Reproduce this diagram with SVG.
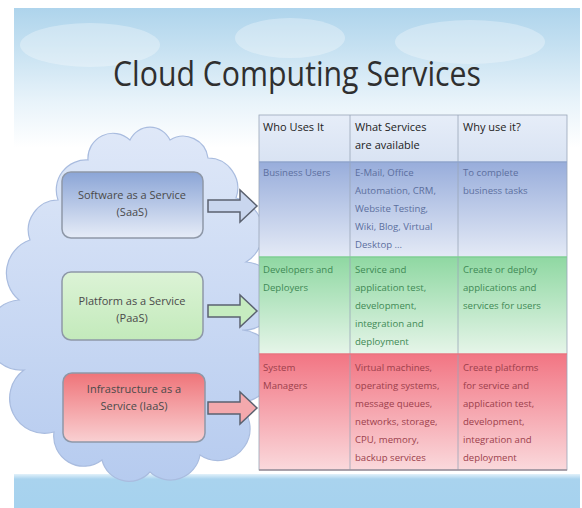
<svg xmlns="http://www.w3.org/2000/svg" width="582" height="508" viewBox="0 0 582 508">
<defs>
<linearGradient id="sky" x1="0" y1="0" x2="0" y2="1">
<stop offset="0" stop-color="#aed4ec"/>
<stop offset="0.08" stop-color="#c4e0f1"/>
<stop offset="0.2" stop-color="#e8f3fa"/>
<stop offset="0.3" stop-color="#ffffff"/>
<stop offset="1" stop-color="#ffffff"/>
</linearGradient>
<linearGradient id="cloudG" x1="0" y1="0" x2="0" y2="1">
<stop offset="0" stop-color="#dfe8f8"/>
<stop offset="1" stop-color="#b6cbef"/>
</linearGradient>
<linearGradient id="hdrG" x1="0" y1="0" x2="0" y2="1">
<stop offset="0" stop-color="#e6edf8"/>
<stop offset="1" stop-color="#d9e3f3"/>
</linearGradient>
<linearGradient id="blueRow" x1="0" y1="0" x2="0" y2="1">
<stop offset="0" stop-color="#98addb"/>
<stop offset="1" stop-color="#e4eaf6"/>
</linearGradient>
<linearGradient id="greenRow" x1="0" y1="0" x2="0" y2="1">
<stop offset="0" stop-color="#8fd8a2"/>
<stop offset="1" stop-color="#e6f5e9"/>
</linearGradient>
<linearGradient id="redRow" x1="0" y1="0" x2="0" y2="1">
<stop offset="0" stop-color="#f27583"/>
<stop offset="1" stop-color="#fad9dc"/>
</linearGradient>
<linearGradient id="saasG" x1="0" y1="0" x2="0" y2="1">
<stop offset="0" stop-color="#8ba5d6"/>
<stop offset="1" stop-color="#e6ecf7"/>
</linearGradient>
<linearGradient id="paasG" x1="0" y1="0" x2="0" y2="1">
<stop offset="0" stop-color="#dcf3d6"/>
<stop offset="1" stop-color="#c3eabb"/>
</linearGradient>
<linearGradient id="iaasG" x1="0" y1="0" x2="0" y2="1">
<stop offset="0" stop-color="#ef7479"/>
<stop offset="1" stop-color="#f9d0d2"/>
</linearGradient>
<linearGradient id="band" x1="0" y1="0" x2="0" y2="1">
<stop offset="0" stop-color="#e2f1fa"/>
<stop offset="0.15" stop-color="#a9d3ee"/>
<stop offset="1" stop-color="#a6d2ee"/>
</linearGradient>
<style>
.title{font-family:"Open Sans","Liberation Sans",sans-serif;font-size:35px;fill:#2f2f2f}
.hdr{font-family:"Open Sans","Liberation Sans",sans-serif;font-size:11px;fill:#222}
.cell{font-family:"Open Sans","Liberation Sans",sans-serif;font-size:9.6px}
.blue{fill:#5c6f9e}
.green{fill:#3f8a55}
.red{fill:#9c3f4c}
.box{stroke:#8e98a8;stroke-width:1.5}
.btxt{font-family:"Open Sans","Liberation Sans",sans-serif;font-size:11px;fill:#4a4a4a;text-anchor:middle}
.arrow{stroke:#5b6270;stroke-width:1.5}
.grid{stroke:#9aa6b8;stroke-width:0.8;fill:none}
</style>
</defs>
<rect width="582" height="508" fill="#ffffff"/>
<rect x="14" y="8" width="566" height="466" fill="url(#sky)"/>
<g fill="#ffffff" opacity="0.3">
<ellipse cx="90" cy="45" rx="70" ry="22"/>
<ellipse cx="290" cy="38" rx="55" ry="20"/>
<ellipse cx="470" cy="42" rx="75" ry="22"/>
</g>
<rect x="14" y="474" width="566" height="34" fill="url(#band)"/>
<text class="title" x="297" y="86" text-anchor="middle" textLength="368" lengthAdjust="spacingAndGlyphs">Cloud Computing Services</text>

<g id="cloud">
<path d="M 58 200 A 30 30 0 0 1 88 160 A 25 25 0 0 1 130 140 A 22 22 0 0 1 170 140 A 25 25 0 0 1 208 158 A 30 30 0 0 1 236 198 A 35 35 0 0 1 246 262 A 32 32 0 0 1 242 330 A 35 35 0 0 1 236 402 A 30 30 0 0 1 200 455 A 30 30 0 0 1 150 472 A 28 28 0 0 1 102 460 A 30 30 0 0 1 54 432 A 35 35 0 0 1 24 370 A 35 35 0 0 1 19 300 A 35 35 0 0 1 30 240 A 30 30 0 0 1 58 200 Z" fill="url(#cloudG)" stroke="#a9bcdf" stroke-width="1.2"/>
</g>

<g id="table">
<rect x="259" y="115" width="308" height="47" fill="url(#hdrG)"/>
<rect x="259" y="162" width="308" height="95" fill="url(#blueRow)"/>
<rect x="259" y="257" width="308" height="97" fill="url(#greenRow)"/>
<rect x="259" y="354" width="308" height="116" fill="url(#redRow)"/>
<rect x="259" y="115" width="308" height="355" class="grid"/>
<line x1="350" y1="115" x2="350" y2="470" class="grid"/>
<line x1="458" y1="115" x2="458" y2="470" class="grid"/>
<line x1="259" y1="162" x2="567" y2="162" stroke="#8fa4cc" stroke-width="1.5"/>
<line x1="259" y1="257" x2="567" y2="257" stroke="#7fcf93" stroke-width="1.5"/>
<line x1="259" y1="354" x2="567" y2="354" stroke="#e87480" stroke-width="1.5"/>
<line x1="259" y1="470" x2="567" y2="470" stroke="#9a8f98" stroke-width="1.5"/>
</g>

<g id="header">
<text class="hdr" x="263" y="131">Who Uses It</text>
<text class="hdr" x="355" y="131">What Services</text>
<text class="hdr" x="355" y="149">are available</text>
<text class="hdr" x="463" y="131">Why use it?</text>
</g>

<g id="row-saas" class="cell blue">
<text x="263" y="176">Business Users</text>
<text x="355" y="176">E-Mail, Office</text>
<text x="355" y="194">Automation, CRM,</text>
<text x="355" y="212">Website Testing,</text>
<text x="355" y="230">Wiki, Blog, Virtual</text>
<text x="355" y="248">Desktop ...</text>
<text x="463" y="176">To complete</text>
<text x="463" y="194">business tasks</text>
</g>

<g id="row-paas" class="cell green">
<text x="263" y="273">Developers and</text>
<text x="263" y="291">Deployers</text>
<text x="355" y="273">Service and</text>
<text x="355" y="291">application test,</text>
<text x="355" y="309">development,</text>
<text x="355" y="327">integration and</text>
<text x="355" y="345">deployment</text>
<text x="463" y="273">Create or deploy</text>
<text x="463" y="291">applications and</text>
<text x="463" y="309">services for users</text>
</g>

<g id="row-iaas" class="cell red">
<text x="263" y="371">System</text>
<text x="263" y="389">Managers</text>
<text x="355" y="371">Virtual machines,</text>
<text x="355" y="389">operating systems,</text>
<text x="355" y="407">message queues,</text>
<text x="355" y="425">networks, storage,</text>
<text x="355" y="443">CPU, memory,</text>
<text x="355" y="461">backup services</text>
<text x="463" y="371">Create platforms</text>
<text x="463" y="389">for service and</text>
<text x="463" y="407">application test,</text>
<text x="463" y="425">development,</text>
<text x="463" y="443">integration and</text>
<text x="463" y="461">deployment</text>
</g>

<g id="saas">
<rect x="62" y="172" width="141" height="66" rx="9" class="box" fill="url(#saasG)"/>
<text class="btxt" x="132" y="199">Software as a Service</text>
<text class="btxt" x="132" y="216">(SaaS)</text>
</g>
<g id="paas">
<rect x="62" y="272" width="141" height="68" rx="9" class="box" fill="url(#paasG)"/>
<text class="btxt" x="132" y="305">Platform as a Service</text>
<text class="btxt" x="132" y="322">(PaaS)</text>
</g>
<g id="iaas">
<rect x="63" y="373" width="142" height="69" rx="9" class="box" fill="url(#iaasG)"/>
<text class="btxt" x="134" y="393">Infrastructure as a</text>
<text class="btxt" x="134" y="410">Service (IaaS)</text>
</g>

<g id="connectors">
<path class="arrow" fill="#c9d6ee" transform="translate(208,206)" d="M0,-6 H32 V-16 L49,0 L32,16 V6 H0 Z"/>
<path class="arrow" fill="#c6ecc0" transform="translate(208,311)" d="M0,-6 H32 V-16 L49,0 L32,16 V6 H0 Z"/>
<path class="arrow" fill="#f3a9ad" transform="translate(208,408)" d="M0,-6 H32 V-16 L49,0 L32,16 V6 H0 Z"/>
</g>
</svg>
